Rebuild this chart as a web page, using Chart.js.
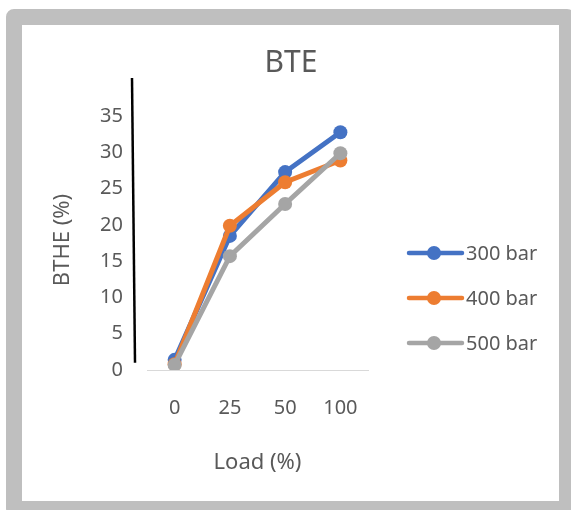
<!DOCTYPE html>
<html>
<head>
<meta charset="utf-8">
<script src="https://cdn.jsdelivr.net/npm/chart.js@4.4.1/dist/chart.umd.min.js"></script>
<style>
  html, body { margin: 0; padding: 0; width: 571px; height: 510px; overflow: hidden; background: #fff; }
  #frame {
    position: absolute; left: 6px; top: 9px; width: 569px; height: 508px;
    box-sizing: border-box; border: 16px solid #bfbfbf; border-radius: 8px; background: #fff;
  }
  #wrap { position: absolute; left: 0; top: 0; width: 571px; height: 510px; }
</style>
</head>
<body>
<div id="frame"></div>
<div id="wrap"><canvas id="chart" width="571" height="510"></canvas></div>
<script>
const loads = ["0", "25", "50", "100"];
const bar300 = [1.4, 18.5, 27.3, 32.8];
const bar400 = [0.8, 19.9, 25.9, 28.9];
const bar500 = [0.7, 15.7, 22.9, 29.9];
const yTicks = [0, 5, 10, 15, 20, 25, 30, 35];

const textColor = "#595959";
const fontFamily = "'Noto Sans', 'DejaVu Sans', sans-serif";

// title, y title, black stroke at the left and the line+marker legend
const extras = {
  id: "extras",
  afterDraw(chart) {
    const ctx = chart.ctx;
    const area = chart.chartArea;
    const y = chart.scales.y;
    ctx.save();

    ctx.fillStyle = textColor;
    ctx.font = "30px " + fontFamily;
    ctx.textAlign = "center";
    ctx.textBaseline = "middle";
    ctx.fillText("BTE", 291, 63);

    ctx.save();
    ctx.translate(63, 240);
    ctx.rotate(-Math.PI / 2);
    ctx.font = "22px " + fontFamily;
    ctx.fillText("BTHE (%)", 0, 0);
    ctx.restore();

    ctx.strokeStyle = "#000";
    ctx.lineWidth = 2.5;
    ctx.beginPath();
    ctx.moveTo(area.left - 15, area.top - 2);
    ctx.lineTo(area.left - 12, y.getPixelForValue(1));
    ctx.stroke();

    ctx.font = "20px " + fontFamily;
    ctx.textAlign = "left";
    chart.data.datasets.forEach((ds, i) => {
      const ly = 253 + i * 45;
      ctx.strokeStyle = ds.borderColor;
      ctx.lineWidth = 4.5;
      ctx.lineCap = "round";
      ctx.beginPath();
      ctx.moveTo(409, ly);
      ctx.lineTo(462, ly);
      ctx.stroke();
      ctx.fillStyle = ds.backgroundColor;
      ctx.beginPath();
      ctx.arc(434, ly, 7, 0, Math.PI * 2);
      ctx.fill();
      ctx.fillStyle = textColor;
      ctx.fillText(ds.label, 466, ly + 1);
    });
    ctx.restore();
  }
};

new Chart(document.getElementById("chart"), {
  type: "line",
  data: {
    labels: loads,
    datasets: [
      { label: "300 bar", data: bar300, borderColor: "#4472C4", backgroundColor: "#4472C4", order: 2 },
      { label: "400 bar", data: bar400, borderColor: "#ED7D31", backgroundColor: "#ED7D31", order: 1 },
      { label: "500 bar", data: bar500, borderColor: "#A5A5A5", backgroundColor: "#A5A5A5", order: 0 }
    ]
  },
  options: {
    responsive: false,
    animation: false,
    layout: { padding: { left: 46, right: 203, top: 80, bottom: 30 } },
    elements: {
      line: { borderWidth: 5, tension: 0 },
      point: { radius: 7, borderWidth: 0, hoverRadius: 7 }
    },
    plugins: {
      legend: { display: false },
      title: { display: false },
      tooltip: { enabled: false }
    },
    scales: {
      x: {
        offset: true,
        grid: { display: false, drawTicks: false },
        border: { display: true, color: "#d9d9d9", width: 1 },
        ticks: { color: textColor, font: { family: fontFamily, size: 20 }, padding: 26 },
        title: { display: true, text: "Load (%)", color: textColor, font: { family: fontFamily, size: 22 } },
        afterFit(scale) { scale.height = 110; }
      },
      y: {
        min: 0,
        max: 40,
        grid: { display: false, drawTicks: false },
        border: { display: false },
        afterBuildTicks(scale) { scale.ticks = yTicks.map(v => ({ value: v })); },
        ticks: { color: textColor, font: { family: fontFamily, size: 20 }, padding: 24 },
        title: { display: false },
        afterFit(scale) { scale.width = 101; }
      }
    }
  },
  plugins: [extras]
});
</script>
</body>
</html>
